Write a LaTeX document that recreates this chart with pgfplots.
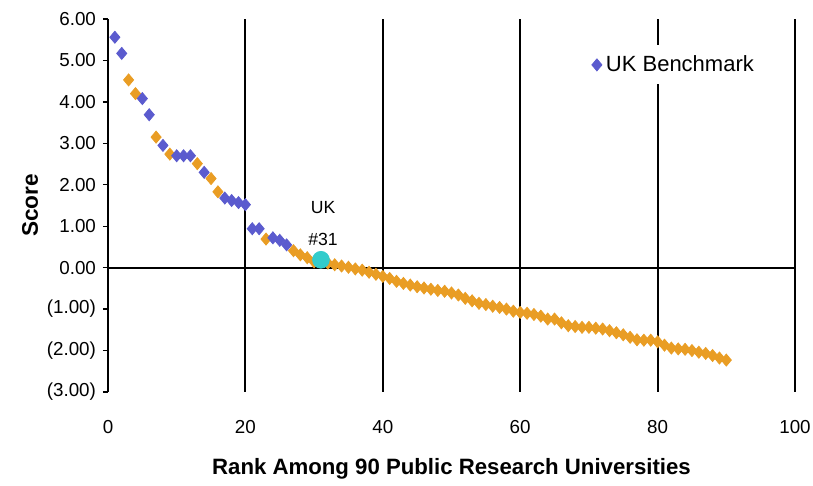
\documentclass[border=0pt]{standalone}
\usepackage{fontspec}
\setmainfont{Liberation Sans}
\usepackage{pgfplots}
\pgfplotsset{compat=1.18}
\definecolor{bench}{RGB}{91,91,206}
\definecolor{allu}{RGB}{233,157,36}
\definecolor{ukc}{RGB}{51,204,204}
\begin{document}
\begin{tikzpicture}
\begin{axis}[
  name=ax,
  scale only axis,
  width=343.5pt, height=186.5pt,
  xmin=0, xmax=100, ymin=-3, ymax=6,
  axis lines*=left,
  x axis line style={draw=none},
  y axis line style={line width=0.9pt},
  xtick={0,20,...,100},
  ytick={-3,...,6},
  yticklabels={(3.00),(2.00),(1.00),0.00,1.00,2.00,3.00,4.00,5.00,6.00},
  xmajorgrids,
  major grid style={black, line width=1pt},
  xtick style={draw=none},
  ytick style={black, line width=0.7pt},
  tick align=outside,
  major tick length=2.5pt,
  tick label style={font=\fontsize{9.4}{10}\selectfont},
  xticklabel style={yshift=-8pt},
  /pgf/number format/assume math mode=true,
  extra y ticks={0},
  extra y tick labels={},
  extra y tick style={ymajorgrids=true, major grid style={black, line width=1pt}},
  xlabel={\fontsize{11.1}{13}\selectfont\bfseries Rank Among 90 Public Research Universities},
  ylabel={\fontsize{11.3}{13}\selectfont\bfseries Score},
  every axis x label/.style={at={(rel axis cs:0.5,0)}, anchor=center, yshift=-38.5pt},
  ylabel shift=-7.5pt,
  legend style={at={(rel axis cs:0.695,0.877)}, anchor=west, draw=none, fill=white,
    font=\fontsize{11}{13}\selectfont, inner sep=3pt},
  legend image code/.code={\draw[#1] plot coordinates {(0.12cm,0cm)};},
  legend cell align=left,
]
\addplot[only marks, mark=diamond*, mark size=3pt, color=allu, mark options={xscale=1.12}, forget plot] coordinates {
(3,4.53)(4,4.20)(7,3.15)(9,2.74)(13,2.51)(15,2.15)(16,1.83)(23,0.69)(27,0.41)(28,0.31)(29,0.24)(30,0.14)
(32,0.11)(33,0.07)(34,0.04)(35,0.01)(36,-0.03)(37,-0.06)(38,-0.11)(39,-0.16)(40,-0.21)
(41,-0.26)(42,-0.33)(43,-0.38)(44,-0.42)(45,-0.46)(46,-0.49)(47,-0.52)(48,-0.55)(49,-0.57)(50,-0.61)
(51,-0.66)(52,-0.74)(53,-0.80)(54,-0.86)(55,-0.89)(56,-0.93)(57,-0.96)(58,-1.00)(59,-1.05)(60,-1.08)
(61,-1.10)(62,-1.13)(63,-1.17)(64,-1.24)(65,-1.24)(66,-1.33)(67,-1.40)(68,-1.42)(69,-1.44)(70,-1.44)
(71,-1.46)(72,-1.48)(73,-1.52)(74,-1.57)(75,-1.62)(76,-1.68)(77,-1.74)(78,-1.75)(79,-1.75)(80,-1.79)
(81,-1.87)(82,-1.94)(83,-1.96)(84,-1.97)(85,-2.00)(86,-2.04)(87,-2.07)(88,-2.12)(89,-2.18)(90,-2.23)
};
\addplot[only marks, mark=diamond*, mark size=3pt, color=bench, mark options={xscale=1.12}] coordinates {
(1,5.56)(2,5.17)(5,4.08)(6,3.69)(8,2.95)(10,2.70)(11,2.70)(12,2.70)(14,2.30)(17,1.68)(18,1.62)(19,1.57)(20,1.52)
(21,0.94)(22,0.94)(24,0.72)(25,0.66)(26,0.55)
};
\addlegendentry{UK Benchmark}
\addplot[only marks, mark=*, mark size=4.2pt, color=ukc, forget plot] coordinates {(31,0.19)};
\node[font=\fontsize{8.8}{10}\selectfont] at (axis cs:31.3,1.45) {UK};
\node[font=\fontsize{8.8}{10}\selectfont] at (axis cs:31.3,0.68) {\#31};
\end{axis}
\pgfresetboundingbox
\path ([shift={(-54pt,-47pt)}]ax.south west) rectangle ([shift={(9pt,9.5pt)}]ax.north east);
\end{tikzpicture}
\end{document}
